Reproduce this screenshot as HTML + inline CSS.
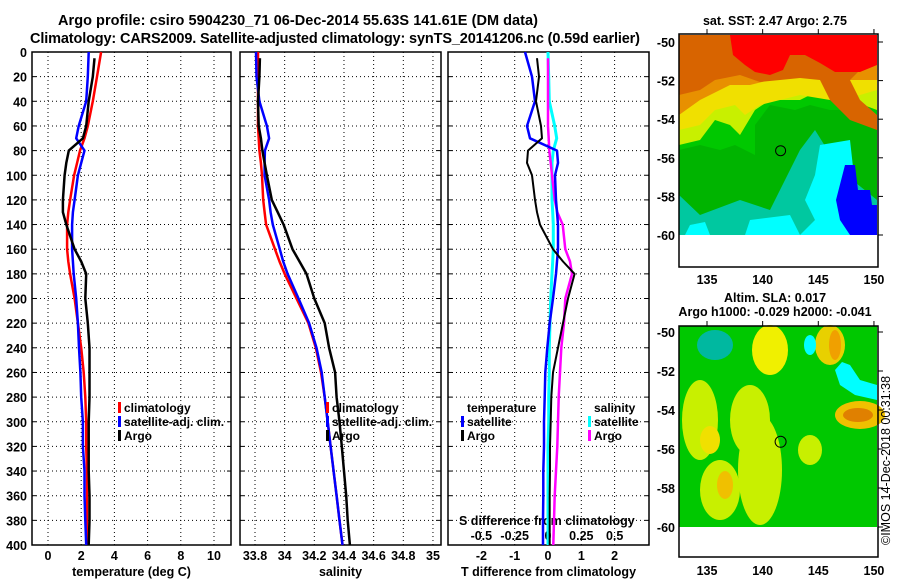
<!DOCTYPE html>
<html><head><meta charset="utf-8"><style>
html,body{margin:0;padding:0;background:#fff;}
svg{display:block;font-family:"Liberation Sans",Arial,sans-serif;font-weight:bold;}
</style></head><body>
<svg id="fig" width="900" height="580" viewBox="0 0 900 580">
<g font-size="14.5" text-anchor="middle">
<text x="298" y="25" textLength="480">Argo profile: csiro 5904230_71 06-Dec-2014 55.63S 141.61E (DM data)</text>
<text x="335" y="43" textLength="610">Climatology: CARS2009. Satellite-adjusted climatology: synTS_20141206.nc (0.59d earlier)</text>
<text x="775" y="25" font-size="12.5">sat. SST: 2.47 Argo: 2.75</text>
<text x="775" y="302" font-size="12.5">Altim. SLA: 0.017</text>
<text x="775" y="316" font-size="12.5">Argo h1000: -0.029 h2000: -0.041</text>
</g>
<g id="maps">
<g>
<rect x="679" y="35" width="198" height="200" fill="#00c8a0"/>
<polygon points="679,35 877,35 877,200 840,170 815,130 800,150 770,210 740,200 700,215 679,195" fill="#00b400"/>
<polygon points="679,35 877,35 877,120 850,110 830,110 810,105 795,110 770,105 755,125 755,155 735,145 720,150 700,145 679,150" fill="#00c800"/>
<polygon points="679,35 877,35 877,110 850,100 820,90 800,100 770,100 755,110 740,135 730,125 715,120 700,140 679,145" fill="#c8f000"/>
<polygon points="679,35 877,35 877,90 860,95 830,100 800,95 780,100 760,105 745,115 735,105 715,110 700,125 679,130" fill="#f0e000"/>
<polygon points="679,35 877,35 877,80 850,80 830,75 810,75 790,75 770,80 750,85 730,85 700,100 679,115" fill="#e89000"/>
<polygon points="679,35 877,35 877,60 860,70 850,80 860,100 877,115 877,130 850,120 830,100 820,80 800,78 780,80 760,82 740,75 715,80 700,90 679,95" fill="#d86400"/>
<polygon points="730,35 877,35 877,65 860,72 835,72 820,63 805,55 790,55 783,70 770,75 755,72 745,65 733,55" fill="#ff0000"/>
<polygon points="820,145 850,140 855,185 870,210 877,215 877,235 800,235 815,220 805,200 815,175" fill="#00ffff"/>
<polygon points="750,220 790,215 800,235 745,235" fill="#00ffff"/>
<polygon points="690,225 705,222 710,235 685,235" fill="#00ffff"/>
<polygon points="845,165 855,165 858,190 870,190 872,205 877,205 877,235 850,235 840,220 836,200" fill="#0000ff"/>
<circle cx="780.6" cy="150.7" r="5" fill="none" stroke="#000" stroke-width="1"/>
</g>
<g>
<rect x="679" y="326" width="198" height="201" fill="#00c800"/>
<ellipse cx="700" cy="420" rx="18" ry="40" fill="#c8f000"/>
<ellipse cx="750" cy="420" rx="20" ry="35" fill="#c8f000"/>
<ellipse cx="770" cy="350" rx="18" ry="25" fill="#f0f000"/>
<ellipse cx="760" cy="470" rx="22" ry="55" fill="#c8f000"/>
<ellipse cx="720" cy="490" rx="20" ry="30" fill="#c8f000"/>
<ellipse cx="725" cy="485" rx="8" ry="14" fill="#f0c000"/>
<ellipse cx="710" cy="440" rx="10" ry="14" fill="#f0e000"/>
<ellipse cx="830" cy="345" rx="15" ry="20" fill="#e8d000"/>
<ellipse cx="835" cy="345" rx="6" ry="15" fill="#f0a000"/>
<ellipse cx="810" cy="450" rx="12" ry="15" fill="#c8f000"/>
<ellipse cx="860" cy="415" rx="25" ry="14" fill="#f0c000"/>
<ellipse cx="858" cy="415" rx="15" ry="7" fill="#e08000"/>
<ellipse cx="715" cy="345" rx="18" ry="15" fill="#00b8a0"/>
<polygon points="835,370 842,362 850,365 860,380 877,385 877,400 855,395 840,385" fill="#00ffff"/>
<ellipse cx="810" cy="345" rx="6" ry="10" fill="#00ffff"/>
<circle cx="780.6" cy="441.8" r="5.5" fill="none" stroke="#000" stroke-width="1"/>
</g>
</g>
<g id="axes"></g>
<g id="plots"></g>
<text transform="translate(890,545) rotate(-90)" font-size="12.5" font-weight="normal">©IMOS 14-Dec-2018 00:31:38</text>
</svg>
<script>
// ---------- data ----------
const pressure = [0,20,40,60,70,80,90,100,120,130,140,160,170,180,200,220,240,260,280,300,320,340,360,380,400];
const argoPressure = [5,20,40,60,70,80,90,100,120,130,140,160,170,180,200,220,240,260,280,300,320,340,360,380,400];
const tempClim = [3.2,2.95,2.7,2.4,2.2,1.93,1.75,1.57,1.33,1.22,1.15,1.15,1.22,1.33,1.6,1.8,2.0,2.15,2.25,2.3,2.3,2.35,2.35,2.35,2.35];
const tempSat = [2.45,2.4,2.3,1.85,1.7,2.2,2.0,1.8,1.6,1.5,1.45,1.45,1.5,1.55,1.7,1.8,1.87,1.95,2.0,2.1,2.1,2.2,2.2,2.25,2.3];
const tempArgo = [2.8,2.7,2.45,2.3,2.1,1.25,1.1,1.0,0.9,0.9,1.1,1.6,2.0,2.3,2.25,2.4,2.5,2.5,2.5,2.45,2.45,2.45,2.5,2.5,2.45];
const salClim = [33.82,33.82,33.82,33.82,33.825,33.83,33.84,33.847,33.855,33.865,33.875,33.935,33.965,34.0,34.08,34.16,34.21,34.245,34.27,34.29,34.31,34.33,34.35,34.37,34.39];
const salSat = [33.807,33.81,33.83,33.88,33.895,33.867,33.865,33.865,33.895,33.905,33.92,33.967,33.99,34.02,34.093,34.165,34.215,34.25,34.27,34.29,34.31,34.33,34.35,34.37,34.39];
const salArgo = [33.833,33.83,33.82,33.825,33.84,33.85,33.865,33.88,33.913,33.953,33.993,34.053,34.1,34.147,34.2,34.27,34.3,34.34,34.35,34.37,34.385,34.4,34.415,34.425,34.44];
const dTempSat = [-0.69,-0.48,-0.39,-0.63,-0.54,0.27,0.3,0.21,0.24,0.27,0.3,0.3,0.27,0.24,0.15,0.05,-0.02,-0.08,-0.1,-0.12,-0.12,-0.14,-0.14,-0.15,-0.15];
const dTempArgo = [-0.33,-0.27,-0.36,-0.21,-0.18,-0.6,-0.63,-0.48,-0.39,-0.33,-0.24,0.15,0.45,0.8,0.6,0.45,0.3,0.15,0.1,0.08,0.06,0.06,0.05,0.05,0.05];
const dSalSat = [0,0.005,0.01,0.05,0.065,0.04,0.03,0.03,0.03,0.035,0.04,0.04,0.035,0.03,0.02,0.015,0.01,0.01,0.005,0.005,0,0,0,0,0];
const dSalArgo = [0,0,0,0,0.005,0.01,0.02,0.03,0.05,0.07,0.11,0.13,0.165,0.18,0.13,0.12,0.1,0.09,0.08,0.075,0.07,0.06,0.05,0.045,0.04];
const pTicks = [0,20,40,60,80,100,120,140,160,180,200,220,240,260,280,300,320,340,360,380,400];
const tTicks = [0,2,4,6,8,10];
const sTicks = [33.8,34,34.2,34.4,34.6,34.8,35];
const dtTicks = [-2,-1,0,1,2];
const dsTicks = [-0.5,-0.25,0,0.25,0.5];
const latTicks = [-50,-52,-54,-56,-58,-60];
const lonTicks = [135,140,145,150];

// ---------- scales ----------
const NS='http://www.w3.org/2000/svg';
const TOP=52, BOT=545;
const yP = p => TOP + p*(BOT-TOP)/400;
const xT = t => 48 + t*16.6;
const xS = s => 255 + (s-33.8)*148.3;
const xDT = d => 548 + d*33.3;
const xDS = d => 548 + d*133.3;
const xLon = l => 707 + (l-135)*11.13;
const yLatTop = l => 42 + (-50-l)*19.3;
const yLatBot = l => 332 + (-50-l)*19.5;

function mk(tag, attrs, parent){const e=document.createElementNS(NS,tag);for(const k in attrs)e.setAttribute(k,attrs[k]);parent.appendChild(e);return e;}
const axes=document.getElementById('axes'), plots=document.getElementById('plots');

function panel(name,x0,x1,xticks,xf,labels,title,showY){
  const g=mk('g',{},axes);
  
  
  pTicks.forEach(p=>{
    if(p>0&&p<400) mk('line',{x1:x0,x2:x1,y1:yP(p),y2:yP(p),stroke:'#000','stroke-dasharray':'1,3'},g);
    mk('line',{x1:x0,x2:x0+4,y1:yP(p),y2:yP(p),stroke:'#000'},g);
    mk('line',{x1:x1-4,x2:x1,y1:yP(p),y2:yP(p),stroke:'#000'},g);
    if(showY){const t=mk('text',{x:27,y:yP(p)+5,'text-anchor':'end','font-size':'12.5'},g);t.textContent=p;
      
      }
  });
  xticks.forEach((v,i)=>{const x=xf(v);
    mk('line',{x1:x,x2:x,y1:TOP,y2:BOT,stroke:'#000','stroke-dasharray':'1,3'},g);
    if(labels){const t=mk('text',{x:x,y:560,'text-anchor':'middle','font-size':'12.5'},g);t.textContent=labels[i];
      
      }
  });
  mk('rect',{x:x0,y:TOP,width:x1-x0,height:BOT-TOP,fill:'none',stroke:'#000','stroke-width':'1.5'},g);
  const tt=mk('text',{x:(x0+x1)/2,y:576,'text-anchor':'middle','font-size':'12.5'},g);tt.textContent=title;
  
  
}
panel('temperature-panel',32,231,tTicks,xT,tTicks.map(String),'temperature (deg C)',true);
panel('salinity-panel',240,441,sTicks,xS,['33.8','34','34.2','34.4','34.6','34.8','35'],'salinity',false);
panel('difference-panel',448,649,dtTicks,xDT,dtTicks.map(String),'T difference from climatology',false);

(function(){const g=mk('g',{'font-size':'12.5'},axes);
 
 
 const t=mk('text',{x:459,y:525},g);t.textContent='S difference from climatology';
 dsTicks.forEach(v=>{const l=mk('text',{x:xDS(v),y:540,'text-anchor':'middle'},g);l.textContent=String(v);
  
  });
})();

function line(name,P,V,xf,color,w){
  const pts=P.map((p,i)=>xf(V[i]).toFixed(1)+','+yP(p).toFixed(1)).join(' ');
  const e=mk('polyline',{points:pts,fill:'none',stroke:color,'stroke-width':w,'stroke-linejoin':'round'},plots);
  
  
}
line('temp-climatology-line',pressure,tempClim,xT,'#ff0000',2.5);
line('temp-satellite-line',pressure,tempSat,xT,'#0000ff',2.5);
line('temp-argo-line',argoPressure,tempArgo,xT,'#000',2.5);
line('sal-climatology-line',pressure,salClim,xS,'#ff0000',2.5);
line('sal-satellite-line',pressure,salSat,xS,'#0000ff',2.5);
line('sal-argo-line',argoPressure,salArgo,xS,'#000',2.5);
line('dsal-satellite-line',pressure,dSalSat,xDS,'#00ffff',3);
line('dsal-argo-line',argoPressure,dSalArgo,xDS,'#ff00ff',2.5);
line('dtemp-satellite-line',pressure,dTempSat,xDT,'#0000ff',2.5);
line('dtemp-argo-line',argoPressure,dTempArgo,xDT,'#000',2);

function legend(name,x,y,items){
  const g=mk('g',{'font-size':'12'},plots);
  
  
  items.forEach((it,i)=>{
    if(it[1]) mk('rect',{x:x,y:y+i*14-10,width:3,height:11,fill:it[1]},g);
    const t=mk('text',{x:x+6,y:y+i*14},g);t.textContent=it[0];
    
    
  });
}
legend('temp-legend',118,412,[['climatology','#ff0000'],['satellite-adj. clim.','#0000ff'],['Argo','#000']]);
legend('sal-legend',326,412,[['climatology','#ff0000'],['satellite-adj. clim.','#0000ff'],['Argo','#000']]);
legend('diff-temp-legend',461,412,[['temperature',null],['satellite','#0000ff'],['Argo','#000']]);
legend('diff-sal-legend',588,412,[['salinity',null],['satellite','#00ffff'],['Argo','#ff00ff']]);

function mapAxes(name,top,bottom,yl,lonY){
  const g=mk('g',{'font-size':'12.5'},axes);
  
  
  mk('rect',{x:679,y:top,width:199,height:bottom-top,fill:'none',stroke:'#000','stroke-width':'1.5'},g);
  latTicks.forEach(l=>{const y=yl(l);
    mk('line',{x1:878,x2:883,y1:y,y2:y,stroke:'#000'},g);
    const t=mk('text',{x:675,y:y+5,'text-anchor':'end'},g);t.textContent=l;
    
    });
  lonTicks.forEach(l=>{const x=xLon(l);
    mk('line',{x1:x,x2:x,y1:top-5,y2:top,stroke:'#000'},g);
    const t=mk('text',{x:x,y:lonY,'text-anchor':'middle'},g);t.textContent=l;
    
    });
}
mapAxes('sst-map-axes',34,267,yLatTop,284);
mapAxes('sla-map-axes',326,557,yLatBot,575);
</script>
</body></html>
